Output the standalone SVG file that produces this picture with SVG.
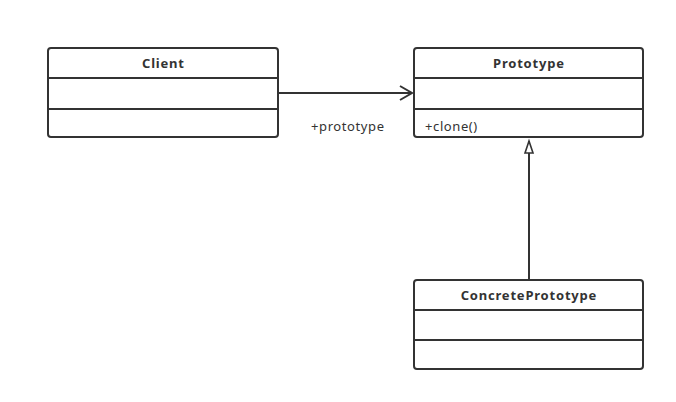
<svg xmlns="http://www.w3.org/2000/svg" width="676" height="402" viewBox="0 0 676 402">
<defs>
<style>
.box{fill:#fff;stroke:#333;stroke-width:2}
.div{stroke:#333;stroke-width:2}
.title{font-family:"Noto Sans","Open Sans",sans-serif;font-weight:bold;font-size:13px;fill:#333;text-anchor:middle;letter-spacing:0.8px}
.txt{font-family:"Noto Sans","Open Sans",sans-serif;font-size:13px;fill:#333;letter-spacing:0.6px}
.edge{stroke:#333;stroke-width:2;fill:none}
</style>
<marker id="open" markerUnits="userSpaceOnUse" markerWidth="16" markerHeight="20" refX="13" refY="8" orient="auto" viewBox="0 0 16 16">
<path d="M1,1 L13,8 L1,15" fill="none" stroke="#333" stroke-width="2"/>
</marker>
<marker id="tri" markerUnits="userSpaceOnUse" markerWidth="16" markerHeight="18" refX="13" refY="5" orient="auto" viewBox="0 0 16 10">
<path d="M1,1 L13,5 L1,9 Z" fill="#fff" stroke="#333" stroke-width="1.6"/>
</marker>
</defs>
<rect width="676" height="402" fill="#fff"/>
<g id="connectors">
<line class="edge" x1="278" y1="93" x2="412" y2="93" marker-end="url(#open)"/>
<line class="edge" x1="529" y1="280" x2="529" y2="141" marker-end="url(#tri)"/>
<text class="txt" x="311" y="131">+prototype</text>
</g>
<g id="client">
<rect class="box" x="48" y="48" width="230" height="89" rx="3"/>
<line class="div" x1="48" y1="78" x2="278" y2="78"/>
<line class="div" x1="48" y1="109" x2="278" y2="109"/>
<text class="title" x="163.4" y="68">Client</text>
</g>
<g id="prototype">
<rect class="box" x="414" y="48" width="229" height="89" rx="3"/>
<line class="div" x1="414" y1="78" x2="643" y2="78"/>
<line class="div" x1="414" y1="109" x2="643" y2="109"/>
<text class="title" x="528.9" y="68">Prototype</text>
<text class="txt" x="425" y="131">+clone()</text>
</g>
<g id="concreteprototype">
<rect class="box" x="414" y="280" width="229" height="89" rx="3"/>
<line class="div" x1="414" y1="310" x2="643" y2="310"/>
<line class="div" x1="414" y1="340" x2="643" y2="340"/>
<text class="title" x="528.9" y="300">ConcretePrototype</text>
</g>
</svg>
